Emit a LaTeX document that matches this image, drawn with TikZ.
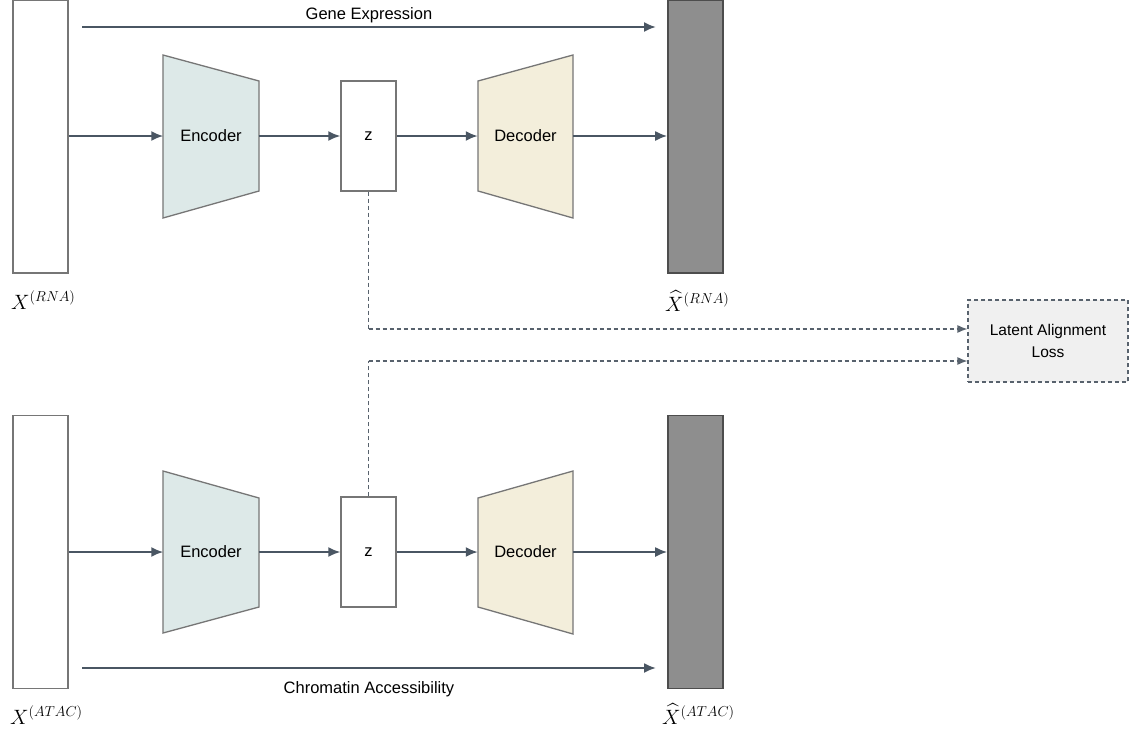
\documentclass[tikz,border=0pt]{standalone}
\usepackage{fontspec}
\setmainfont{Liberation Sans}
\usepackage{amsmath}
\usetikzlibrary{arrows.meta}
\definecolor{arr}{HTML}{4A5663}
\definecolor{edge}{HTML}{767676}
\definecolor{encfill}{HTML}{DDE9E8}
\definecolor{decfill}{HTML}{F3EEDB}
\definecolor{recfill}{HTML}{8E8E8E}
\definecolor{recedge}{HTML}{4D4D4D}
\definecolor{lossfill}{HTML}{F0F0F0}
\definecolor{dashc}{HTML}{58626D}
\tikzset{
  databox/.style={draw=edge, line width=1.3pt, fill=white, minimum width=55pt, minimum height=273pt, inner sep=0pt},
  recbox/.style={draw=recedge, line width=1.6pt, fill=recfill, minimum width=55pt, minimum height=273pt, inner sep=0pt},
  zbox/.style={draw=edge, line width=1.3pt, fill=white, minimum width=55pt, minimum height=110pt, inner sep=0pt, font=\fontsize{16.5}{19}\selectfont},
  slot/.style={minimum width=95pt, minimum height=110pt, inner sep=0pt, font=\fontsize{16.5}{19}\selectfont},
  trap/.style={draw=edge, line width=1.3pt},
  flow/.style={draw=arr, line width=2pt, -{Latex[length=12pt,width=10pt]}},
  dflow/.style={draw=dashc, line width=1.2pt, dash pattern=on 4pt off 3pt},
  lbl/.style={font=\fontsize{16.5}{19}\selectfont, inner sep=0pt},
  mlbl/.style={font=\fontsize{20}{24}\selectfont, inner sep=0pt, anchor=west},
  lossbox/.style={draw=dashc, line width=1.2pt, dash pattern=on 4pt off 3pt, fill=lossfill, minimum width=160pt, minimum height=82pt, align=center, font=\fontsize{15.5}{22}\selectfont}
}
\begin{document}
\begin{tikzpicture}[x=1pt,y=-1pt]
\useasboundingbox (0,0) rectangle (1129,731);
\fill[white] (0,0) rectangle (1129,731);

% ---------- top (RNA) ----------
\node[databox] (xr) at (40.5,136.5) {};
\node[recbox] (xhr) at (695.5,136.5) {};
\node[zbox] (zr) at (368.5,136) {z};
\fill[encfill] (163,55) -- (259,81) -- (259,191) -- (163,218) -- cycle;
\draw[trap] (163,55) -- (259,81) -- (259,191) -- (163,218) -- cycle;
\node[slot] (er) at (211,136) {Encoder};
\fill[decfill] (478,81) -- (573,55) -- (573,218) -- (478,191) -- cycle;
\draw[trap] (478,81) -- (573,55) -- (573,218) -- (478,191) -- cycle;
\node[slot] (dr) at (525.5,136) {Decoder};

\coordinate (ger) at (82,27);
\coordinate (gee) at (656,27);
\draw[flow] (ger) -- node[lbl, above=3pt] {Gene Expression} (gee);
\draw[flow] (xr.east |- er) -- (er.west);
\draw[flow] (er.east) -- (zr.west);
\draw[flow] (zr.east) -- (dr.west);
\draw[flow] (dr.east) -- (xhr.west |- dr);

\node[mlbl] (lxr) at (11,300) {$X^{(RNA)}$};
\node[mlbl] (lxhr) at (665,301) {$\widehat{X}^{(RNA)}$};

% ---------- bottom (ATAC) ----------
\node[databox] (xa) at (40.5,552) {};
\node[recbox] (xha) at (695.5,552) {};
\node[zbox] (za) at (368.5,552) {z};
\fill[encfill] (163,471) -- (259,498) -- (259,607) -- (163,633) -- cycle;
\draw[trap] (163,471) -- (259,498) -- (259,607) -- (163,633) -- cycle;
\node[slot] (ea) at (211,552) {Encoder};
\fill[decfill] (478,498) -- (573,471) -- (573,634) -- (478,607) -- cycle;
\draw[trap] (478,498) -- (573,471) -- (573,634) -- (478,607) -- cycle;
\node[slot] (da) at (525.5,552) {Decoder};

\coordinate (cas) at (82,668);
\coordinate (cae) at (656,668);
\draw[flow] (cas) -- node[lbl, below=13pt] {Chromatin Accessibility} (cae);
\draw[flow] (xa.east |- ea) -- (ea.west);
\draw[flow] (ea.east) -- (za.west);
\draw[flow] (za.east) -- (da.west);
\draw[flow] (da.east) -- (xha.west |- da);

\node[mlbl] (lxa) at (10,715) {$X^{(ATAC)}$};
\node[mlbl] (lxha) at (662,714) {$\widehat{X}^{(ATAC)}$};

% ---------- loss ----------
\node[lossbox] (loss) at (1048,341) {Latent Alignment\\Loss};
\coordinate (ra) at (368.5,329);
\coordinate (rb) at (368.5,361);
\draw[dflow] (zr.south) -- (ra);
\draw[dflow, -{Latex[length=10pt,width=8pt]}] (ra) -- (ra -| loss.west);
\draw[dflow] (za.north) -- (rb);
\draw[dflow, -{Latex[length=10pt,width=8pt]}] (rb) -- (rb -| loss.west);
\end{tikzpicture}
\end{document}
